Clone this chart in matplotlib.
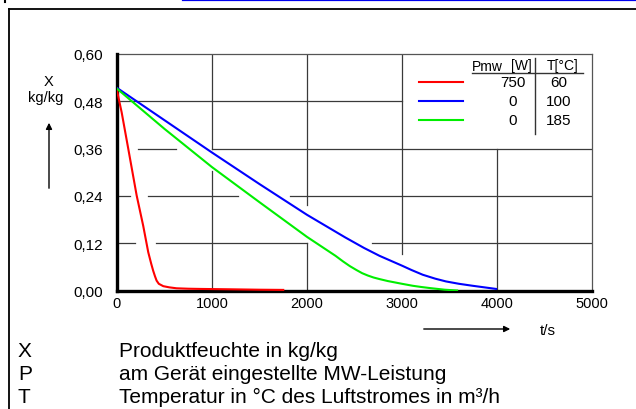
import matplotlib
matplotlib.use("Agg")
import matplotlib.pyplot as plt
from matplotlib import font_manager
from matplotlib.lines import Line2D

# drying curves: product moisture X [kg/kg] over time t [s]
red_t = [0, 49, 119, 207, 276, 329, 360, 381, 400, 417, 440, 487, 550, 627, 750, 872, 1200, 1500, 1750]
red_x = [0.507, 0.452, 0.359, 0.241, 0.164, 0.097, 0.068, 0.050, 0.036, 0.025, 0.017, 0.011,
         0.008, 0.0056, 0.0045, 0.004, 0.003, 0.002, 0.0015]

blue_t = [0, 250, 500, 1000, 1500, 2000, 2400, 2600, 2763, 3000, 3100, 3218, 3350, 3463, 3600, 3743, 3990]
blue_x = [0.514, 0.473, 0.432, 0.350, 0.270, 0.192, 0.135, 0.108, 0.088, 0.063, 0.052, 0.040,
          0.030, 0.023, 0.017, 0.012, 0.004]

green_t = [0, 500, 1000, 1500, 2000, 2200, 2300, 2378, 2450, 2520, 2580, 2640, 2700, 2763,
           2850, 3000, 3113, 3200, 3300, 3450, 3580]
green_x = [0.512, 0.410, 0.313, 0.224, 0.136, 0.104, 0.088, 0.074, 0.062, 0.052, 0.044, 0.038,
           0.033, 0.029, 0.024, 0.017, 0.012, 0.009, 0.006, 0.002, 0.0]

pmw = ["750", "0", "0"]
temp = ["60", "100", "185"]
colors = ["#ff0000", "#0000ff", "#00ee00"]

xticks = [0, 1000, 2000, 3000, 4000, 5000]
yticks = [0.0, 0.12, 0.24, 0.36, 0.48, 0.60]
ytick_labels = ["0,00", "0,12", "0,24", "0,36", "0,48", "0,60"]

# the drawing has a broken grid, segments kept here
hgrid = [(0.48, 0, 3000), (0.36, 220, 620), (0.36, 1000, 5000),
         (0.24, 0, 135), (0.24, 330, 1275), (0.24, 1820, 5000),
         (0.12, 0, 190), (0.12, 415, 2000), (0.12, 2680, 5000)]
vgrid = [(1000, 0, 0.304), (1000, 0.36, 0.6), (2000, 0, 0.12), (2000, 0.217, 0.6),
         (3000, 0.093, 0.6), (4000, 0, 0.36)]

notes = [("X", "Produktfeuchte in kg/kg"),
         ("P", "am Gerät eingestellte MW-Leistung"),
         ("T", "Temperatur in °C des Luftstromes in m³/h")]


def pick(names):
    for n in names:
        try:
            font_manager.findfont(n, fallback_to_default=False)
            return n
        except ValueError:
            pass
    return "DejaVu Sans"


cad = pick(["Liberation Sans Narrow", "DejaVu Sans Condensed", "Liberation Sans"])
arial = pick(["Liberation Sans", "Arial"])

W, H = 636, 410
fig = plt.figure(figsize=(W / 100, H / 100), dpi=100)


def fp(x, y):
    # pixel position -> figure fraction
    return x / W, 1 - y / H


ax = fig.add_axes([117 / W, 1 - 291.5 / H, (592 - 117) / W, (291.5 - 55) / H])
ax.set_xlim(0, 5000)
ax.set_ylim(0, 0.6)

for y, a, b in hgrid:
    ax.plot([a, b], [y, y], color="#3a3a3a", lw=0.9, zorder=1)
for x, a, b in vgrid:
    ax.plot([x, x], [a, b], color="#3a3a3a", lw=0.9, zorder=1)

ax.plot(red_t, red_x, color=colors[0], lw=1.5, zorder=4)
ax.plot(blue_t, blue_x, color=colors[1], lw=1.5, zorder=4)
ax.plot(green_t, green_x, color=colors[2], lw=1.5, zorder=4)

for s in ["top", "right"]:
    ax.spines[s].set_color("#555555")
    ax.spines[s].set_linewidth(0.9)
for s in ["left", "bottom"]:
    ax.spines[s].set_color("black")
    ax.spines[s].set_linewidth(2.4)
    ax.spines[s].set_zorder(3)

ax.set_xticks(xticks)
ax.set_xticklabels([str(v) for v in xticks], family=cad, fontsize=10.5)
ax.set_yticks(yticks)
ax.set_yticklabels(ytick_labels, family=cad, fontsize=11)
ax.tick_params(axis="x", length=0, pad=4)
ax.tick_params(axis="y", length=0, pad=10)

# axis captions and arrows
fig.text(*fp(49, 82), "X", family=cad, fontsize=10.5, ha="center", va="center")
fig.text(*fp(46, 98), "kg/kg", family=cad, fontsize=10.5, ha="center", va="center")
fig.patches.append(matplotlib.patches.FancyArrowPatch(
    fp(49, 192), fp(49, 121), transform=fig.transFigure, arrowstyle="-|>",
    mutation_scale=9, lw=1, color="black"))
fig.patches.append(matplotlib.patches.FancyArrowPatch(
    fp(421, 330), fp(513, 330), transform=fig.transFigure, arrowstyle="-|>",
    mutation_scale=9, lw=1, color="black"))
fig.text(*fp(548, 331), "t/s", family=cad, fontsize=11, ha="center", va="center")

# legend table
fig.text(*fp(472, 67), "Pmw", family=cad, fontsize=10, ha="left", va="center")
fig.text(*fp(521, 66), "[W]", family=cad, fontsize=10, ha="center", va="center")
fig.text(*fp(563, 66), "T[°C]", family=cad, fontsize=10, ha="center", va="center")
fig.add_artist(Line2D([472 / W, 583 / W], [1 - 73.5 / H] * 2, color="#333333", lw=1))
fig.add_artist(Line2D([535 / W] * 2, [1 - 59 / H, 1 - 135 / H], color="#333333", lw=1))
for i, (p, t) in enumerate(zip(pmw, temp)):
    yy = 83 + i * 19.2
    fig.add_artist(Line2D([419 / W, 463 / W], [1 - yy / H] * 2, color=colors[i], lw=1.5))
    fig.text(*fp(513, yy), p, family=cad, fontsize=11, ha="center", va="center")
    fig.text(*fp(559, yy), t, family=cad, fontsize=11, ha="center", va="center")

# explanation lines below the chart
for i, (k, txt) in enumerate(notes):
    yb = 357 + i * 23
    fig.text(*fp(18, yb), k, family=arial, fontsize=15, ha="left", va="baseline")
    fig.text(*fp(119, yb), txt, family=arial, fontsize=15, ha="left", va="baseline")

# outer frame and page remnants at the top
fig.add_artist(Line2D([9 / W, 1], [1 - 10 / H] * 2, color="black", lw=1.3))
fig.add_artist(Line2D([9 / W] * 2, [1 - 10 / H, 0], color="black", lw=1.3))
fig.add_artist(Line2D([183 / W, 1], [1 - 0.8 / H] * 2, color="#0000ee", lw=1.6))
fig.add_artist(Line2D([5 / W] * 2, [1, 1 - 3 / H], color="black", lw=1.5))

fig.savefig("out.png", dpi=100)
